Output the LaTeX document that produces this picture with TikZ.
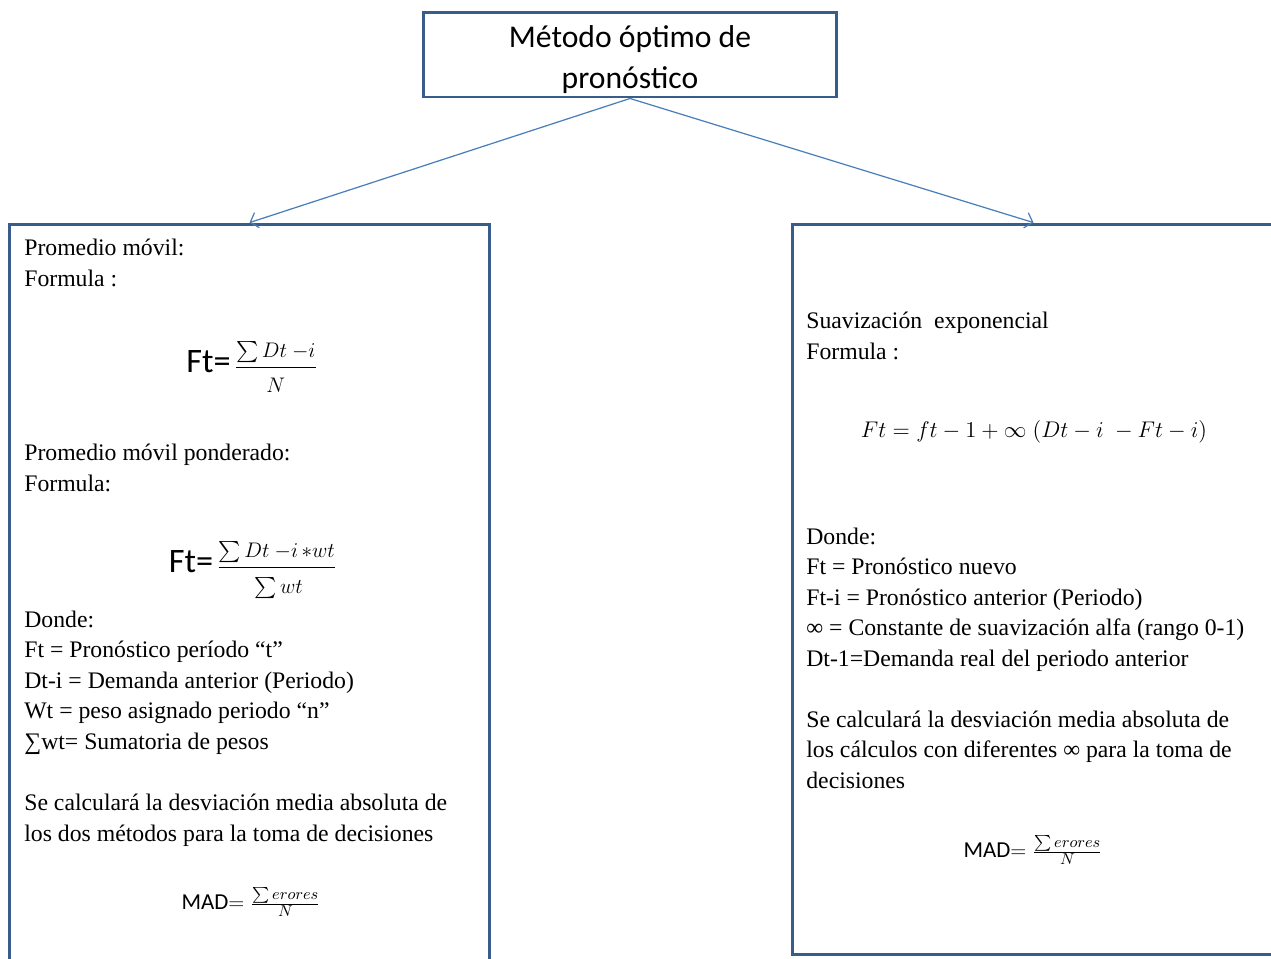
\documentclass[tikz,border=0pt]{standalone}
\usepackage{amsmath}
\usepackage{graphicx}
\usepackage{fontspec}
\setmainfont{Liberation Serif}
\newfontfamily\calibri{Carlito}
\usetikzlibrary{arrows.meta}
\definecolor{boxblue}{RGB}{56,93,138}
\definecolor{linkblue}{RGB}{74,126,187}
\newcommand{\ftlabel}[1]{{\calibri\fontsize{19.5}{20}\selectfont #1}\,}
\newcommand{\numstrut}{\rule[-4pt]{0pt}{4pt}}
\newcommand{\denstrut}{\rule{0pt}{13pt}}
\begin{document}
\begin{tikzpicture}[x=0.02cm,y=-0.02cm,
	box/.style={draw=boxblue,line width=1.7pt,fill=white,inner sep=0pt},
	link/.style={draw=linkblue,line width=0.7pt,-{Straight Barb[length=4pt,width=9pt]}},
	txt/.style={anchor=base west,align=left,inner sep=0pt,font=\fontsize{13.5}{17.3}\selectfont},
	eq/.style={inner sep=0pt,font=\fontsize{11.5}{14}\selectfont}]
	\useasboundingbox (0,0) rectangle (1271,958);
	% cajas
	\node[box,minimum width=8.28cm,minimum height=1.7cm,align=center,
		font=\calibri\fontsize{18}{23.2}\selectfont] (title) at (630,54.5)
		{\rule{0pt}{18pt}Método óptimo de\\pronóstico};
	\node[box,minimum width=9.62cm,minimum height=14.92cm] (leftbox) at (249.5,597) {};
	\node[box,minimum width=9.66cm,minimum height=14.62cm] (rightbox) at (1033.5,589.5) {};
	\draw[link] (title.south)--(leftbox.north);
	\draw[link] (title.south)--(rightbox.north);
	% promedio movil (base = ultima linea)
	\node[txt] (pm) at (24,286) {Promedio móvil:\\Formula :};
	\node[eq] (f1) at (252,367) {\ftlabel{Ft=}$\dfrac{\sum Dt\ {-}i\numstrut}{\denstrut N}$};
	\node[txt] (pmp) at (24,491) {Promedio móvil ponderado:\\Formula:};
	\node[eq] (f2) at (253,570) {\ftlabel{Ft=}$\dfrac{\sum Dt\ {-}i\,{*}wt\numstrut}{\denstrut\sum wt}$};
	\node[txt] (dl) at (24,749) {Donde:\\Ft = Pronóstico período “t”\\Dt-i = Demanda anterior (Periodo)\\Wt = peso asignado periodo “n”\\∑wt= Sumatoria de pesos};
	\node[txt] (sl) at (24,841) {Se calculará la desviación media absoluta de\\los dos métodos para la toma de decisiones};
	\node[eq,font=\fontsize{13}{15}\selectfont] (madl) at (251,902) {{\calibri MAD}$=\frac{\sum erores}{N}$};
	% suavizacion exponencial
	\node[eq,font=\fontsize{12}{15}\selectfont] (f3) at (1034,432) {\scalebox{1.075}{$Ft=ft-1+\infty\;(Dt-i\;-Ft-i)$}};
	\node[txt] (se) at (806,359) {Suavización\ \ exponencial\\Formula :};
	\node[txt] (dr) at (806,666) {Donde:\\Ft = Pronóstico nuevo\\Ft-i = Pronóstico anterior (Periodo)\\∞ = Constante de suavización alfa (rango 0-1)\\Dt-1=Demanda real del periodo anterior};
	\node[txt] (sr) at (806,788) {Se calculará la desviación media absoluta de\\los cálculos con diferentes ∞ para la toma de\\decisiones};
	\node[eq,font=\fontsize{13}{15}\selectfont] (madr) at (1033,850) {{\calibri MAD}$=\frac{\sum erores}{N}$};
\end{tikzpicture}
\end{document}
